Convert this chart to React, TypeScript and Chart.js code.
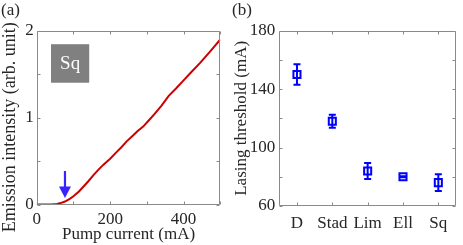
import React, { useEffect, useRef } from 'react';
import { Chart, registerables } from 'chart.js';

Chart.register(...registerables);

// ---- Panel (a): emission vs pump current ----
const pumpCurrent = [0, 20, 40, 55, 65, 77, 90, 100, 115, 127, 140, 154, 167, 181, 200, 218, 230, 245, 263, 275, 290, 305, 320, 340, 359, 380, 400, 420, 445, 472, 500];
const emission = [0.005, 0.005, 0.007, 0.012, 0.022, 0.04, 0.07, 0.1, 0.155, 0.21, 0.27, 0.34, 0.4, 0.46, 0.53, 0.61, 0.66, 0.73, 0.8, 0.85, 0.9, 0.97, 1.04, 1.14, 1.25, 1.34, 1.43, 1.52, 1.63, 1.76, 1.9];
const xTicksA = [0, 100, 200, 300, 400, 500];
const xLabelsA = [0, 200, 400];
const yTicksA = [0, 0.5, 1, 1.5, 2];
const yLabelsA = [0, 1, 2];
const yTitleA = 'Emission intensity (arb. unit)';
const arrowCurrent = 77;
const arrowFrom = 0.39;
const arrowTo = 0.08;
const shapeLabel = 'Sq';
const shapeBoxX = [39, 143];
const shapeBoxY = [1.403, 1.845];

// ---- Panel (b): lasing threshold per cavity shape ----
const shapes = ['D', 'Stad', 'Lim', 'Ell', 'Sq'];
const thresholds = [150, 118, 84, 80, 76];
const thresholdErr = [7, 4.5, 5.5, 0.4, 5.8];
const yTicksB = [60, 80, 100, 120, 140, 160, 180];
const yLabelsB = [60, 100, 140, 180];

const FONT = '"Liberation Serif", "Times New Roman", serif';
const TEXT = '#262626';
const AXIS = '#8a8a8a';

const framePlugin = {
  id: 'frame',
  afterDraw(chart: any) {
    const { ctx, chartArea: a, scales } = chart;
    const L = Math.round(a.left) + 0.5;
    const R = Math.round(a.right) - 0.5;
    const T = Math.round(a.top) + 0.5;
    const B = Math.round(a.bottom) - 0.5;
    const len = 3;
    ctx.save();
    ctx.strokeStyle = AXIS;
    ctx.lineWidth = 1;
    ctx.beginPath();
    ctx.rect(L, T, R - L, B - T);
    for (const t of scales.x.ticks) {
      const px = Math.round(scales.x.getPixelForValue(t.value)) + 0.5;
      ctx.moveTo(px, B);
      ctx.lineTo(px, B - len);
      ctx.moveTo(px, T);
      ctx.lineTo(px, T + len);
    }
    for (const t of scales.y.ticks) {
      const py = Math.round(scales.y.getPixelForValue(t.value)) + 0.5;
      ctx.moveTo(L, py);
      ctx.lineTo(L + len, py);
      ctx.moveTo(R, py);
      ctx.lineTo(R - len, py);
    }
    ctx.stroke();
    ctx.restore();
  },
};

const annotPluginA = {
  id: 'annotA',
  afterDatasetsDraw(chart: any) {
    const { ctx, scales, chartArea: a } = chart;
    const x = scales.x, y = scales.y;
    // arrow
    const ax = x.getPixelForValue(arrowCurrent);
    const y0 = y.getPixelForValue(arrowFrom);
    const y1 = y.getPixelForValue(arrowTo);
    const headLen = 11.5, headHalf = 6;
    ctx.save();
    ctx.strokeStyle = '#3a22ff';
    ctx.fillStyle = '#3a22ff';
    ctx.lineWidth = 2.2;
    ctx.beginPath();
    ctx.moveTo(ax, y0);
    ctx.lineTo(ax, y1 - headLen + 1);
    ctx.stroke();
    ctx.beginPath();
    ctx.moveTo(ax - headHalf, y1 - headLen);
    ctx.lineTo(ax + headHalf, y1 - headLen);
    ctx.lineTo(ax, y1);
    ctx.closePath();
    ctx.fill();
    // label box
    const bx0 = x.getPixelForValue(shapeBoxX[0]);
    const bx1 = x.getPixelForValue(shapeBoxX[1]);
    const by0 = y.getPixelForValue(shapeBoxY[1]);
    const by1 = y.getPixelForValue(shapeBoxY[0]);
    ctx.fillStyle = '#808080';
    ctx.fillRect(bx0, by0, bx1 - bx0, by1 - by0);
    ctx.fillStyle = '#ffffff';
    ctx.font = `19px ${FONT}`;
    ctx.textAlign = 'center';
    ctx.textBaseline = 'middle';
    ctx.fillText(shapeLabel, (bx0 + bx1) / 2, (by0 + by1) / 2 + 1);
    // y-axis title (MATLAB places it slightly below the axis centre)
    ctx.fillStyle = TEXT;
    ctx.font = `18px ${FONT}`;
    ctx.translate(10.5, (a.top + a.bottom) / 2 + 9.5);
    ctx.rotate(-Math.PI / 2);
    ctx.fillText(yTitleA, 0, 0);
    ctx.restore();
  },
};

const errorBarPlugin = {
  id: 'errbars',
  afterDatasetsDraw(chart: any) {
    const { ctx, scales } = chart;
    const capHalf = 3.5;
    ctx.save();
    ctx.strokeStyle = '#0000ff';
    ctx.lineWidth = 2;
    ctx.beginPath();
    thresholds.forEach((v, i) => {
      const px = scales.x.getPixelForValue(i + 1);
      const top = scales.y.getPixelForValue(v + thresholdErr[i]);
      const bot = scales.y.getPixelForValue(v - thresholdErr[i]);
      ctx.moveTo(px, top);
      ctx.lineTo(px, bot);
      ctx.moveTo(px - capHalf, top);
      ctx.lineTo(px + capHalf, top);
      ctx.moveTo(px - capHalf, bot);
      ctx.lineTo(px + capHalf, bot);
    });
    ctx.stroke();
    ctx.restore();
  },
};

function tickFont(size = 17) {
  return { family: FONT, size };
}

export default function App() {
  const refA = useRef<HTMLCanvasElement>(null);
  const refB = useRef<HTMLCanvasElement>(null);

  useEffect(() => {
    const chartA = new Chart(refA.current as HTMLCanvasElement, {
      type: 'line',
      data: {
        datasets: [
          {
            data: pumpCurrent.map((c, i) => ({ x: c, y: emission[i] })),
            borderColor: '#cc0000',
            borderWidth: 2,
            pointRadius: 0,
            tension: 0,
            fill: false,
          },
        ],
      },
      options: {
        animation: false,
        responsive: false,
        devicePixelRatio: 1,
        layout: { padding: { top: 30.7, right: 10.7, left: 0, bottom: 0 } },
        plugins: { legend: { display: false }, tooltip: { enabled: false } },
        scales: {
          x: {
            type: 'linear',
            min: 0,
            max: 500,
            afterBuildTicks: (s: any) => { s.ticks = xTicksA.map((v) => ({ value: v })); },
            afterFit: (s: any) => { s.height = 40; },
            grid: { display: false, drawTicks: false },
            border: { display: false },
            ticks: {
              autoSkip: false,
              maxRotation: 0,
              padding: 4,
              color: TEXT,
              font: tickFont(),
              callback: (v: any) => (xLabelsA.includes(Number(v)) ? String(v) : ''),
            },
            title: { display: true, text: 'Pump current (mA)', color: TEXT, font: tickFont(), padding: 0 },
          },
          y: {
            type: 'linear',
            min: 0,
            max: 2,
            afterBuildTicks: (s: any) => { s.ticks = yTicksA.map((v) => ({ value: v })); },
            afterFit: (s: any) => { s.width = 36.7; },
            grid: { display: false, drawTicks: false },
            border: { display: false },
            ticks: {
              padding: 3,
              color: TEXT,
              font: tickFont(),
              callback: (v: any) => (yLabelsA.includes(Number(v)) ? String(v) : ''),
            },
            title: { display: false, text: yTitleA },
          },
        },
      },
      plugins: [annotPluginA, framePlugin],
    } as any);

    const chartB = new Chart(refB.current as HTMLCanvasElement, {
      type: 'scatter',
      data: {
        datasets: [
          {
            data: thresholds.map((v, i) => ({ x: i + 1, y: v })),
            pointStyle: 'rect',
            pointRadius: 5,
            borderColor: '#0000ff',
            backgroundColor: 'rgba(0,0,0,0)',
            borderWidth: 2,
            showLine: false,
          },
        ],
      },
      options: {
        animation: false,
        responsive: false,
        devicePixelRatio: 1,
        layout: { padding: { top: 30.7, right: 2, left: 0, bottom: 0 } },
        plugins: { legend: { display: false }, tooltip: { enabled: false } },
        scales: {
          x: {
            type: 'linear',
            min: 0.5,
            max: 5.5,
            afterBuildTicks: (s: any) => { s.ticks = shapes.map((_, i) => ({ value: i + 1 })); },
            afterFit: (s: any) => { s.height = 39; },
            grid: { display: false, drawTicks: false },
            border: { display: false },
            ticks: {
              autoSkip: false,
              maxRotation: 0,
              padding: 7,
              color: TEXT,
              font: tickFont(),
              callback: (v: any) => shapes[Math.round(Number(v)) - 1] ?? '',
            },
          },
          y: {
            type: 'linear',
            min: 60,
            max: 180,
            afterBuildTicks: (s: any) => { s.ticks = yTicksB.map((v) => ({ value: v })); },
            afterFit: (s: any) => { s.width = 48.3; },
            grid: { display: false, drawTicks: false },
            border: { display: false },
            ticks: {
              padding: 4,
              color: TEXT,
              font: tickFont(),
              callback: (v: any) => (yLabelsB.includes(Number(v)) ? String(v) : ''),
            },
            title: { display: true, text: 'Lasing threshold (mA)', color: TEXT, font: tickFont(), padding: 0 },
          },
        },
      },
      plugins: [errorBarPlugin, framePlugin],
    } as any);

    return () => {
      chartA.destroy();
      chartB.destroy();
    };
  }, []);

  const panelLabel: React.CSSProperties = {
    position: 'absolute',
    top: 0,
    fontFamily: FONT,
    fontSize: 17,
    lineHeight: '20px',
    color: TEXT,
  };

  return (
    <div style={{ position: 'absolute', left: 0, top: 0, width: 463, height: 245, background: '#fff', overflow: 'hidden' }}>
      <canvas ref={refA} width={231} height={245} style={{ position: 'absolute', left: 0, top: 0, width: 231, height: 245 }} />
      <canvas ref={refB} width={232} height={245} style={{ position: 'absolute', left: 231, top: 0, width: 232, height: 245 }} />
      <div style={{ ...panelLabel, left: 1 }}>(a)</div>
      <div style={{ ...panelLabel, left: 232 }}>(b)</div>
    </div>
  );
}
